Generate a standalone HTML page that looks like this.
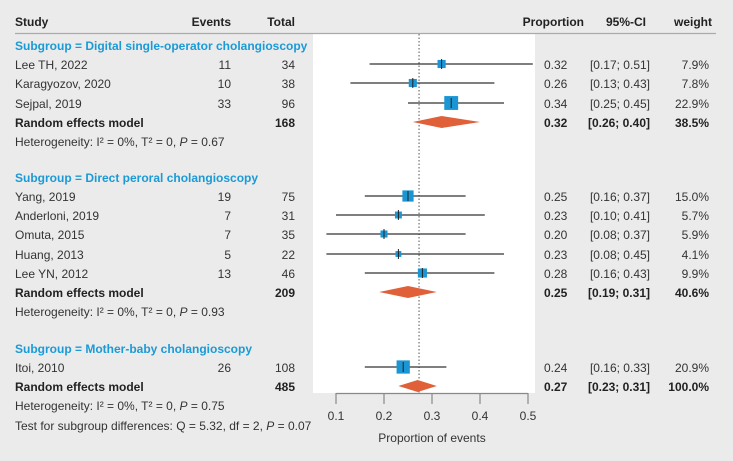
<!DOCTYPE html>
<html><head><meta charset="utf-8"><style>
html,body{margin:0;padding:0;background:#ebebeb;}
svg{display:block;font-family:"Liberation Sans",sans-serif;}
text{font-size:12px;fill:#333;}
.b{font-weight:bold;fill:#222;}
.sg{font-weight:bold;fill:#1a9ad6;}
</style></head><body>
<svg id="c" width="733" height="461" xmlns="http://www.w3.org/2000/svg"></svg>
<script>
const studies=["Lee TH, 2022","Karagyozov, 2020","Sejpal, 2019","Yang, 2019","Anderloni, 2019","Omuta, 2015","Huang, 2013","Lee YN, 2012","Itoi, 2010"];
const events=[11,10,33,19,7,7,5,13,26];
const totals=[34,38,96,75,31,35,22,46,108];
const props=[0.32,0.26,0.34,0.25,0.23,0.20,0.23,0.28,0.24];
const lows=[0.17,0.13,0.25,0.16,0.10,0.08,0.08,0.16,0.16];
const highs=[0.51,0.43,0.45,0.37,0.41,0.37,0.45,0.43,0.33];
const weights=[7.9,7.8,22.9,15.0,5.7,5.9,4.1,9.9,20.9];
const studyRows=[64,83,103,196,215,234,254,273,367];
const pooledEst=[0.32,0.25,0.27];
const pooledLow=[0.26,0.19,0.23];
const pooledHigh=[0.40,0.31,0.31];
const pooledW=["38.5%","40.6%","100.0%"];
const pooledN=[168,209,485];
const pooledRows=[122,292,386];
const ticks=[0.1,0.2,0.3,0.4,0.5];
const overall=0.273;
const hetP=["0.67","0.93","0.75"];
const NS="http://www.w3.org/2000/svg";
const svg=document.getElementById('c');
const x=v=>336+(v-0.1)*480;
function el(t,a,p){const e=document.createElementNS(NS,t);for(const k in a)e.setAttribute(k,a[k]);(p||svg).appendChild(e);return e;}
function tx(s,X,Y,anchor,cls,name){const e=el('text',{x:X,y:Y,'text-anchor':anchor||'start'});if(cls)e.setAttribute('class',cls);e.textContent=s;


return e;}
const f2=v=>v.toFixed(2);
const panel=el('rect',{x:313,y:34,width:222,height:359,fill:'#fff'});


const hl=el('line',{x1:15,x2:716,y1:33.5,y2:33.5,stroke:'#aaa','stroke-width':1.2});


tx('Study',15,26,'start','b','header-study');
tx('Events',231,26,'end','b','header-events');
tx('Total',295,26,'end','b','header-total');
tx('Proportion',584,26,'end','b','header-proportion');
tx('95%-CI',626,26,'middle','b','header-ci');
tx('weight',712,26,'end','b','header-weight');
tx('Subgroup = Digital single-operator cholangioscopy',15,50,'start','sg','subgroup-title-digital');
tx('Subgroup = Direct peroral cholangioscopy',15,182,'start','sg','subgroup-title-direct');
tx('Subgroup = Mother-baby cholangioscopy',15,353,'start','sg','subgroup-title-mother-baby');
// reference line
const rl=el('line',{x1:x(overall),x2:x(overall),y1:34,y2:393,stroke:'#555','stroke-width':1,'stroke-dasharray':'1.5,2'});


studies.forEach((s,i)=>{const y=studyRows[i];
tx(s,15,y+5,'start',null,'study-name');
tx(String(events[i]),231,y+5,'end',null,'study-events');
tx(String(totals[i]),295,y+5,'end',null,'study-total');
tx(f2(props[i]),544,y+5,'start',null,'study-proportion');
tx('['+f2(lows[i])+'; '+f2(highs[i])+']',650,y+5,'end',null,'study-ci');
tx(weights[i].toFixed(1)+'%',709,y+5,'end',null,'study-weight');
const l=el('line',{x1:x(lows[i]),x2:x(highs[i]),y1:y,y2:y,stroke:'#333','stroke-width':1.2});


const sz=2.9*Math.sqrt(weights[i]);
const r=el('rect',{x:x(props[i])-sz/2,y:y-sz/2,width:sz,height:sz,fill:'#1b96d4'});


const t=el('line',{x1:x(props[i]),x2:x(props[i]),y1:y-5,y2:y+5,stroke:'#222','stroke-width':1});


});
pooledRows.forEach((y,i)=>{
tx('Random effects model',15,y+5,'start','b','random-effects-label');
tx(String(pooledN[i]),295,y+5,'end','b','pooled-total');
tx(f2(pooledEst[i]),544,y+5,'start','b','pooled-proportion');
tx('['+f2(pooledLow[i])+'; '+f2(pooledHigh[i])+']',650,y+5,'end','b','pooled-ci');
tx(pooledW[i],709,y+5,'end','b','pooled-weight');
const d=el('polygon',{points:`${x(pooledLow[i])},${y} ${x(pooledEst[i])},${y-6} ${x(pooledHigh[i])},${y} ${x(pooledEst[i])},${y+6}`,fill:'#e0603a'});


const h=tx('',15,y+24,'start',null,'heterogeneity-text');
h.innerHTML='Heterogeneity: I² = 0%, T² = 0, <tspan font-style="italic">P</tspan> = '+hetP[i];
});
const tt=tx('',15,430,'start',null,'subgroup-test-text');
tt.innerHTML='Test for subgroup differences: Q = 5.32, df = 2, <tspan font-style="italic">P</tspan> = 0.07';
// axis
const ax=el('line',{x1:x(0.1),x2:x(0.5),y1:393.5,y2:393.5,stroke:'#888','stroke-width':1.2});


ticks.forEach(v=>{
const tk=el('line',{x1:x(v),x2:x(v),y1:393,y2:404,stroke:'#888','stroke-width':1.2});


tx(String(v),x(v),420,'middle',null,'x-tick-label');
});
tx('Proportion of events',432,442,'middle',null,'x-axis-title');
</script>
</body></html>
